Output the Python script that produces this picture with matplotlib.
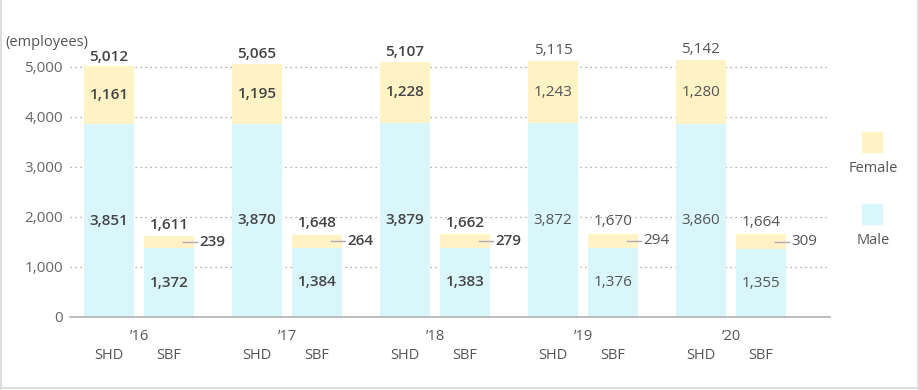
import matplotlib.pyplot as plt
from matplotlib.lines import Line2D
from matplotlib.patches import Rectangle
import numpy as np

plt.rcParams["font.family"] = ["Open Sans", "DejaVu Sans"]

years = ["\u201916", "\u201917", "\u201918", "\u201919", "\u201920"]
companies = ["SHD", "SBF"]

shd_male = [3851, 3870, 3879, 3872, 3860]
shd_female = [1161, 1195, 1228, 1243, 1280]
shd_total = [5012, 5065, 5107, 5115, 5142]
sbf_male = [1372, 1384, 1383, 1376, 1355]
sbf_female = [239, 264, 279, 294, 309]
sbf_total = [1611, 1648, 1662, 1670, 1664]

y_ticks = [0, 1000, 2000, 3000, 4000, 5000]

MALE_COLOR = "#d9f6fb"
FEMALE_COLOR = "#fff2c5"
TEXT_COLOR = "#555555"
BOLD_YEARS = 3  # first three years are set in bold in the original
FS = 11

W, H = 920, 390
fig = plt.figure(figsize=(W / 100, H / 100), dpi=100)

# axes in pixel terms: x 70..830, y 42..317
ax = fig.add_axes([70 / W, 1 - 317 / H, 760 / W, 275 / H])

x = np.arange(len(years))
offset = 30 / 148
width = 50 / 148

ax.bar(x - offset, shd_male, width, color=MALE_COLOR, zorder=2)
ax.bar(x - offset, shd_female, width, bottom=shd_male, color=FEMALE_COLOR, zorder=2)
ax.bar(x + offset, sbf_male, width, color=MALE_COLOR, zorder=2)
ax.bar(x + offset, sbf_female, width, bottom=sbf_male, color=FEMALE_COLOR, zorder=2)

ax.set_xlim((70 - 139) / 148, (830 - 139) / 148)
ax.set_ylim(0, 5500)
ax.set_yticks(y_ticks)
ax.set_yticklabels([f"{v:,}" for v in y_ticks], fontsize=FS, color="#666666")
ax.tick_params(axis="y", length=0, pad=5)
ax.set_xticks([])

for s in ["top", "right", "left"]:
    ax.spines[s].set_visible(False)
ax.spines["bottom"].set_color("#b0b0b0")
ax.spines["bottom"].set_linewidth(1.2)

for t in y_ticks[1:]:
    ax.axhline(t, color="#999999", linestyle=(0, (1, 3)), linewidth=0.9, zorder=1)

for i in range(len(years)):
    weight = "semibold" if i < BOLD_YEARS else "normal"
    col = "#444444" if i < BOLD_YEARS else TEXT_COLOR
    kw = dict(fontsize=FS, color=col, fontweight=weight, ha="center", va="center", zorder=3)

    # SHD
    xs = x[i] - offset
    top = shd_male[i] + shd_female[i]
    ax.annotate(f"{shd_total[i]:,}", (xs, top), xytext=(0, 2), textcoords="offset points",
                va="bottom", ha="center", fontsize=FS, color=col, fontweight=weight)
    ax.text(xs, shd_male[i] + shd_female[i] / 2, f"{shd_female[i]:,}", **kw)
    ax.text(xs, shd_male[i] / 2, f"{shd_male[i]:,}", **kw)

    # SBF
    xb = x[i] + offset
    top = sbf_male[i] + sbf_female[i]
    ax.annotate(f"{sbf_total[i]:,}", (xb, top), xytext=(0, 3), textcoords="offset points",
                va="bottom", ha="center", fontsize=FS, color=col, fontweight=weight)
    ax.text(xb, sbf_male[i] / 2, f"{sbf_male[i]:,}", **kw)
    fy = sbf_male[i] + sbf_female[i] / 2
    ax.plot([xb + 14 / 148, xb + 28 / 148], [fy, fy], color="#b4a8b4", linewidth=1, zorder=3)
    ax.text(xb + 30 / 148, fy, f"{sbf_female[i]:,}", fontsize=FS, color=col,
            fontweight=weight, ha="left", va="center", zorder=3)

    # category labels under the axis
    ax.annotate(years[i], (x[i], 0), xytext=(0, -14), textcoords="offset points",
                ha="center", va="center", fontsize=10.5, color=TEXT_COLOR,
                annotation_clip=False)
    for xc, name in zip([xs, xb], companies):
        ax.annotate(name, (xc, 0), xytext=(0, -27.5), textcoords="offset points",
                    ha="center", va="center", fontsize=10.5, color=TEXT_COLOR,
                    annotation_clip=False)

fig.text(5 / W, 1 - 42 / H, "(employees)", fontsize=10.5, color=TEXT_COLOR,
         ha="left", va="center")

# legend on the right
for sy, label, color, ty in [(132, "Female", FEMALE_COLOR, 168), (204, "Male", MALE_COLOR, 240)]:
    fig.patches.append(Rectangle((862 / W, 1 - (sy + 20) / H), 20 / W, 20 / H,
                                 transform=fig.transFigure, color=color))
    fig.text(873 / W, 1 - ty / H, label, fontsize=10.5, color=TEXT_COLOR,
             ha="center", va="center")

# light frame on left, right and bottom
frame = "#dddddd"
fig.lines.append(Line2D([0.5 / W, 0.5 / W], [0, 1], transform=fig.transFigure, color=frame, lw=1.5))
fig.lines.append(Line2D([918 / W, 918 / W], [0, 1], transform=fig.transFigure, color=frame, lw=1.5))
fig.lines.append(Line2D([0, 918 / W], [2 / H, 2 / H], transform=fig.transFigure, color=frame, lw=1.5))

fig.savefig("out.png", dpi=100)
